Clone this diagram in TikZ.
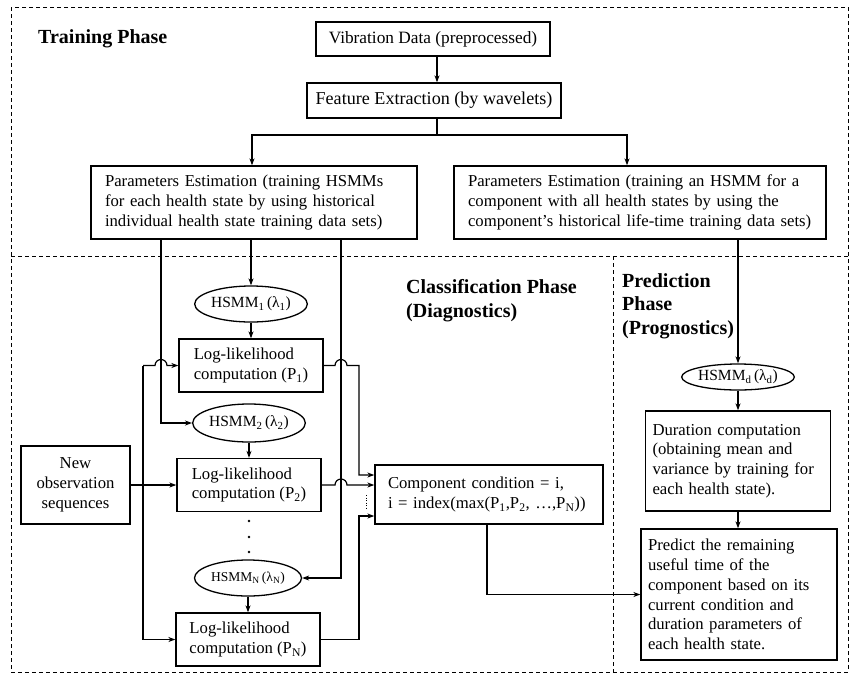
\documentclass[tikz,border=0pt]{standalone}
\usepackage{fontspec}
\setmainfont{Liberation Serif}
\usetikzlibrary{arrows.meta,shapes.geometric}
\begin{document}
\begin{tikzpicture}[x=1pt,y=-1pt,
  every node/.style={font=\fontsize{16.7}{19.8}\selectfont},
  box/.style={draw,line width=1.3pt,rectangle,inner sep=0pt},
  ell/.style={draw,line width=1.3pt,ellipse,inner sep=0pt,font=\fontsize{15.5}{18}\selectfont},
  arr/.style={line width=1.2pt,-{Stealth[length=7pt,width=5pt]}},
  ln/.style={line width=1.2pt},
  frame/.style={line width=1pt,dash pattern=on 4pt off 3pt},
  head/.style={font=\fontsize{20}{23.8}\selectfont\bfseries,align=left,inner sep=0pt}]
\useasboundingbox (0,0) rectangle (857,681);
% frames
\draw[frame] (11,7) rectangle (848,672);
\draw[frame] (11,256) -- (848,256);
\draw[frame] (613,256) -- (613,672);
% headings
\node[head,anchor=base west] (th) at (38,43) {Training Phase};
\node[head,anchor=north west] (ch) at (406,279) {Classification Phase\\(Diagnostics)};
\node[head,anchor=north west] (ph) at (622,273) {Prediction\\Phase\\(Prognostics)};
% guide coordinates
\coordinate (xv) at (437,0);
\coordinate (xpl) at (252,0);
\coordinate (xpr) at (627,0);
\coordinate (xa) at (161,0);
\coordinate (xah) at (155,0);
\coordinate (xb) at (341,0);
\coordinate (xbh) at (335,0);
\coordinate (xbus) at (143,0);
\coordinate (xout) at (359,0);
\coordinate (xc) at (487,0);
\coordinate (xd) at (738,0);
\coordinate (ya) at (0,475);
\coordinate (yc) at (0,516);
\coordinate (jt) at (437,135);
% training nodes
\node[box,minimum width=234pt,minimum height=34pt,font=\fontsize{17.3}{20}\selectfont] (vib) at (433,39) {Vibration Data (preprocessed)};
\node[box,minimum width=254pt,minimum height=35pt,font=\fontsize{18.1}{20}\selectfont] (feat) at (434,100.5) {Feature Extraction (by wavelets)};
\node[box,align=left,text width=298pt,inner xsep=14pt,minimum height=73pt] (pl) at (254,202.5)
  {\mbox{Parameters Estimation (training HSMMs}\\\mbox{for each health state by using historical}\\\mbox{individual health state training data sets)}};
\node[box,align=left,text width=344pt,inner xsep=14pt,minimum height=73pt] (pr) at (640,202.5)
  {\mbox{Parameters Estimation (training an HSMM for a}\\\mbox{component with all health states by using the}\\\mbox{component’s historical life-time training data sets)}};
% classification nodes
\node[ell,minimum width=107pt,minimum height=36pt] (h1) at (251,304) {HSMM\textsubscript{1}\,(λ\textsubscript{1})};
\node[box,minimum width=144pt,minimum height=53pt,align=left] (ll1) at (251,365.5) {Log-likelihood\\computation (P\textsubscript{1})};
\node[ell,minimum width=105pt,minimum height=38pt] (h2) at (249,423) {HSMM\textsubscript{2}\,(λ\textsubscript{2})};
\node[box,minimum width=144pt,minimum height=53pt,align=left] (ll2) at (249,485) {Log-likelihood\\computation (P\textsubscript{2})};
\node[ell,minimum width=107pt,minimum height=36pt,font=\fontsize{13.5}{16}\selectfont] (hN) at (248,578) {HSMM\textsubscript{N}\,(λ\textsubscript{N})};
\node[box,minimum width=144pt,minimum height=53pt,align=left] (llN) at (248,639.5) {Log-likelihood\\computation (P\textsubscript{N})};
\node[box,minimum width=109pt,minimum height=78pt,align=center] (newobs) at (75.5,485) {New\\observation\\sequences};
\node[box,align=left,text width=202pt,inner xsep=13pt,minimum height=59pt] (comp) at (489,494.5)
  {\mbox{Component condition = i,}\\\mbox{i = index(max(P\textsubscript{1},P\textsubscript{2}, …,P\textsubscript{N}))}};
% prediction nodes
\node[ell,minimum width=110pt,minimum height=26pt] (hd) at (738,377) {HSMM\textsubscript{d}\,(λ\textsubscript{d})};
\node[box,align=left,text width=171pt,inner xsep=7pt,minimum height=100pt] (dur) at (738,461)
  {Duration computation\\(obtaining mean and\\variance by training for\\each health state).};
\node[box,align=left,text width=182pt,inner xsep=7pt,minimum height=131pt] (pred) at (739,594.5)
  {Predict the remaining\\useful time of the\\component based on its\\current condition and\\duration parameters of\\each health state.};
% dots
\fill (249,521) circle (1.3pt);
\fill (249,537) circle (1.3pt);
\fill (249,552) circle (1.3pt);
% training connectors
\draw[arr] (vib.south -| xv) -- (feat.north -| xv);
\draw[ln] (feat.south -| xv) -- (jt);
\draw[arr] (jt) -| (pl.north -| xpl);
\draw[arr] (jt) -| (pr.north -| xpr);
% drops to HSMMs
\draw[arr] (pl.south -| h1.north) -- (h1.north);
\draw[arr] (pl.south -| xa) |- (h2.west);
\draw[arr] (pl.south -| xb) |- (hN.east);
\draw[arr] (h1.south) -- (ll1.north);
\draw[arr] (h2.south) -- (ll2.north);
\draw[arr] (hN.south) -- (llN.north);
% input bus
\draw[ln] (xbus |- ll1.west) -- (xbus |- llN.west);
\draw[arr] (newobs.east) -- (ll2.west);
\draw[arr] (xbus |- ll1.west) -- (xah |- ll1.west) arc[start angle=180,end angle=0,radius=6pt] -- (ll1.west);
\draw[arr] (xbus |- llN.west) -- (llN.west);
% outputs
\draw[arr] (ll1.east) -- (xbh |- ll1.east) arc[start angle=180,end angle=0,radius=6pt] -- (xout |- ll1.east) |- (comp.west |- ya);
\draw[arr] (ll2.east) -- (xbh |- ll2.east) arc[start angle=180,end angle=0,radius=6pt] -- (comp.west |- ll2.east);
\draw[arr] (llN.east) -- (xout |- llN.east) |- (comp.west |- yc);
\draw[line width=1pt,dash pattern=on 1pt off 1.5pt] (366,495) -- (366,510);
% prediction connectors
\draw[arr] (comp.south -| xc) |- (pred.west);
\draw[arr] (pr.south -| xd) -- (hd.north);
\draw[arr] (hd.south) -- (dur.north);
\draw[arr] (dur.south) -- (dur.south |- pred.north);
\end{tikzpicture}
\end{document}
